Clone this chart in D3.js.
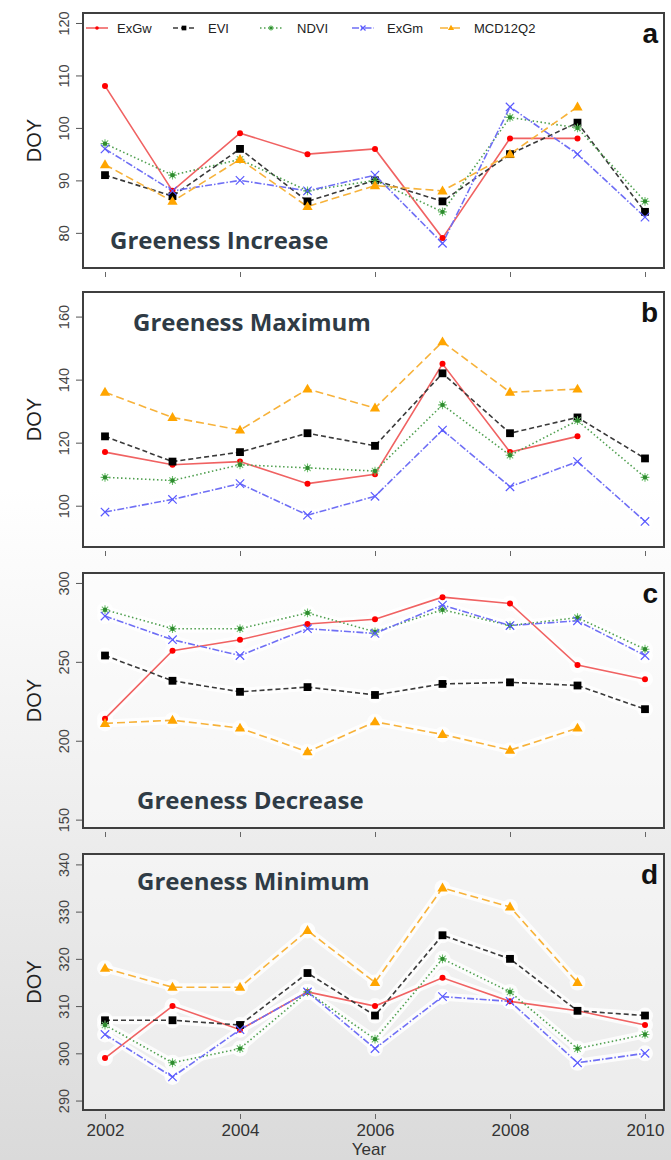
<!DOCTYPE html>
<html><head><meta charset="utf-8">
<script src="https://cdn.jsdelivr.net/npm/d3@7/dist/d3.min.js"></script>
<style>
html,body{margin:0;padding:0;}
body{width:671px;height:1160px;overflow:hidden;background:linear-gradient(#ffffff 0%,#ffffff 42%,#f3f3f3 62%,#dadada 100%);}
svg{display:block;}
</style></head>
<body>
<svg id="chart" width="671" height="1160"></svg>
<script>
// ---------- data ----------
const years = [2002,2003,2004,2005,2006,2007,2008,2009,2010];
const xTickYears = [2002,2004,2006,2008,2010];
const seriesNames = ["ExGw","EVI","NDVI","ExGm","MCD12Q2"];
const panelLetters = ["a","b","c","d"];
const panelTitles = ["Greeness Increase","Greeness Maximum","Greeness Decrease","Greeness Minimum"];

// a: Greeness Increase
const incExGw = [108,88,99,95,96,79,98,98,null];
const incEVI  = [91,87,96,86,90,86,95,101,84];
const incNDVI = [97,91,94,88,90,84,102,100,86];
const incExGm = [96,88,90,88,91,78,104,95,83];
const incMCD  = [93,86,94,85,89,88,95,104,null];
const incTicks = [80,90,100,110,120];

// b: Greeness Maximum
const maxExGw = [117,113,114,107,110,145,117,122,null];
const maxEVI  = [122,114,117,123,119,142,123,128,115];
const maxNDVI = [109,108,113,112,111,132,116,127,109];
const maxExGm = [98,102,107,97,103,124,106,114,95];
const maxMCD  = [136,128,124,137,131,152,136,137,null];
const maxTicks = [100,120,140,160];

// c: Greeness Decrease
const decExGw = [214,257,264,274,277,291,287,248,239];
const decEVI  = [254,238,231,234,229,236,237,235,220];
const decNDVI = [283,271,271,281,269,283,273,278,258];
const decExGm = [279,264,254,271,268,286,273,276,254];
const decMCD  = [211,213,208,193,212,204,194,208,null];
const decTicks = [150,200,250,300];

// d: Greeness Minimum
const minExGw = [299,310,305,313,310,316,311,309,306];
const minEVI  = [307,307,306,317,308,325,320,309,308];
const minNDVI = [306,298,301,313,303,320,313,301,304];
const minExGm = [304,295,305,313,301,312,311,298,300];
const minMCD  = [318,314,314,326,315,335,331,315,null];
const minTicks = [290,300,310,320,330,340];

// ---------- layout / style ----------
const boxLeft = 83, boxRight = 664;
const panels = [
  {top:13,  bottom:268,  domain:[73.3,121.9], ticks:incTicks, series:[incExGw,incEVI,incNDVI,incExGm,incMCD], titleX:110, titleY:240},
  {top:292, bottom:547,  domain:[86.9,167.8], ticks:maxTicks, series:[maxExGw,maxEVI,maxNDVI,maxExGm,maxMCD], titleX:133, titleY:322},
  {top:573, bottom:828,  domain:[144.7,306.3], ticks:decTicks, series:[decExGw,decEVI,decNDVI,decExGm,decMCD], titleX:137, titleY:800},
  {top:854, bottom:1110, domain:[288.0,342.2], ticks:minTicks, series:[minExGw,minEVI,minNDVI,minExGm,minMCD], titleX:137, titleY:881}
];
const styles = [
  {line:"#f06262", dash:null,        marker:"circle",   fill:"#ff0000"},
  {line:"#3a3a3a", dash:"5,3",       marker:"square",   fill:"#000000"},
  {line:"#4f9f4f", dash:"1.5,2.5",   marker:"star",     fill:"#2e8b2e"},
  {line:"#6f6ff5", dash:"7,2,1.5,2", marker:"cross",    fill:"#5a5aff"},
  {line:"#f7b23a", dash:"8,4",       marker:"triangle", fill:"#ffa500"}
];

const svg = d3.select("#chart");
const x = d3.scaleLinear().domain([2002,2010]).range([105,645]);

function drawMarker(g, type, cx, cy, s, st){
  if (type==="circle"){
    g.append("circle").attr("cx",cx).attr("cy",cy).attr("r",3*s).attr("fill",st.fill);
  } else if (type==="square"){
    const h=3.9*s;
    g.append("rect").attr("x",cx-h).attr("y",cy-h).attr("width",2*h).attr("height",2*h).attr("fill",st.fill);
  } else if (type==="triangle"){
    const r=5.4*s;
    g.append("path").attr("d",`M${cx},${cy-r}L${cx+r*0.95},${cy+r*0.65}L${cx-r*0.95},${cy+r*0.65}Z`).attr("fill",st.fill);
  } else if (type==="cross"){
    const r=4.2*s;
    g.append("path").attr("d",`M${cx-r},${cy-r}L${cx+r},${cy+r}M${cx-r},${cy+r}L${cx+r},${cy-r}`)
      .attr("stroke",st.fill).attr("stroke-width",1.2).attr("fill","none");
  } else if (type==="star"){
    const r=4.4*s;
    let d=`M${cx-r},${cy}L${cx+r},${cy}M${cx},${cy-r}L${cx},${cy+r}`;
    const k=r*0.72;
    d+=`M${cx-k},${cy-k}L${cx+k},${cy+k}M${cx-k},${cy+k}L${cx+k},${cy-k}`;
    g.append("path").attr("d",d).attr("stroke","#6fbf6f").attr("stroke-width",1.1).attr("fill","none");
    g.append("circle").attr("cx",cx).attr("cy",cy).attr("r",2.2*s).attr("fill",st.fill);
  }
}

panels.forEach((p,pi)=>{
  const y = d3.scaleLinear().domain(p.domain).range([p.bottom,p.top]);
  const g = svg.append("g");
  g.append("rect").attr("x",boxLeft).attr("y",p.top).attr("width",boxRight-boxLeft).attr("height",p.bottom-p.top)
    .attr("fill","#ffffff").attr("opacity",0.45);

  // y axis
  const yAxis = d3.axisLeft(y).tickValues(p.ticks).tickSize(6).tickFormat(d3.format("d"));
  const ya = g.append("g").attr("transform",`translate(${boxLeft-1},0)`).call(yAxis);
  ya.select(".domain").remove();
  ya.selectAll(".tick line").attr("stroke","#555").attr("stroke-width",1);
  ya.selectAll(".tick text").attr("transform","rotate(-90)").attr("x",0).attr("dy",0)
    .attr("y",-13).attr("text-anchor","middle")
    .style("font-family","'Liberation Sans',Arial,sans-serif").style("font-size","14.5px").attr("fill","#444");

  // x axis ticks
  const xAxis = d3.axisBottom(x).tickValues(xTickYears).tickSize(5).tickFormat(pi===3?d3.format("d"):()=>"");
  const xa = g.append("g").attr("transform",`translate(0,${p.bottom+4})`).call(xAxis);
  xa.select(".domain").remove();
  xa.selectAll(".tick line").attr("stroke","#666").attr("stroke-width",1);
  xa.selectAll(".tick text").attr("y",10)
    .style("font-family","'Liberation Sans',Arial,sans-serif").style("font-size","17px").attr("fill","#333");

  // DOY label
  g.append("text").attr("transform",`translate(41,${(p.top+p.bottom)/2}) rotate(-90)`)
    .attr("text-anchor","middle").style("font-family","'Liberation Sans',Arial,sans-serif")
    .style("font-size","20px").attr("fill","#222").text("DOY");

  // title annotation
  g.append("text").attr("x",p.titleX).attr("y",p.titleY).attr("dy","0.36em")
    .style("font-family","'Open Sans',sans-serif").style("font-weight","bold").style("font-size","24px")
    .attr("fill","#2f3b45").text(panelTitles[pi]);

  // panel letter
  g.append("text").attr("x",658).attr("y",p.top+20).attr("dy","0.36em").attr("text-anchor","end")
    .style("font-family","'Liberation Sans',Arial,sans-serif").style("font-weight","bold").style("font-size","28px")
    .attr("fill","#111").text(panelLetters[pi]);

  // series
  const line = d3.line().defined(d=>d.v!==null).x(d=>x(d.yr)).y(d=>y(d.v));
  const allPts = p.series.map(arr=>years.map((yr,i)=>({yr, v:arr[i]})));
  allPts.forEach(pts=>{
    g.append("path").datum(pts).attr("d",line).attr("fill","none").attr("stroke","#ffffff")
      .attr("stroke-width",8).attr("stroke-linejoin","round").attr("stroke-linecap","round").attr("opacity",0.8);
  });
  allPts.forEach(pts=>{
    pts.filter(d=>d.v!==null).forEach(d=>{
      g.append("circle").attr("cx",x(d.yr)).attr("cy",y(d.v)).attr("r",8).attr("fill","#ffffff").attr("opacity",0.8);
    });
  });
  allPts.forEach((pts,si)=>{
    const st = styles[si];
    g.append("path").datum(pts).attr("d",line).attr("fill","none").attr("stroke",st.line)
      .attr("stroke-width",1.6).attr("stroke-dasharray",st.dash);
  });
  allPts.forEach((pts,si)=>{
    const st = styles[si];
    pts.filter(d=>d.v!==null).forEach(d=>drawMarker(g, st.marker, x(d.yr), y(d.v), 1, st));
  });

  // box
  g.append("rect").attr("x",boxLeft).attr("y",p.top).attr("width",boxRight-boxLeft).attr("height",p.bottom-p.top)
    .attr("fill","none").attr("stroke","#3f3f3f").attr("stroke-width",2);
});

// legend in panel a
const legendX = [86,173,260,352,440];
const legendTextX = [117,208,297,387,474];
const ly = 28;
seriesNames.forEach((name,i)=>{
  const st = styles[i];
  const lg = svg.append("g");
  lg.append("line").attr("x1",legendX[i]).attr("x2",legendX[i]+22).attr("y1",ly).attr("y2",ly)
    .attr("stroke",st.line).attr("stroke-width",1.6).attr("stroke-dasharray",st.dash);
  drawMarker(lg, st.marker, legendX[i]+11, ly, 0.6, st);
  lg.append("text").attr("x",legendTextX[i]).attr("y",ly).attr("dy","0.36em")
    .style("font-family","'Liberation Sans',Arial,sans-serif").style("font-size","13px")
    .attr("fill","#222").text(name);
});

// x axis title
svg.append("text").attr("x",369).attr("y",1149).attr("dy","0.36em").attr("text-anchor","middle")
  .style("font-family","'Liberation Sans',Arial,sans-serif").style("font-size","17px").attr("fill","#333").text("Year");
</script>
</body></html>
